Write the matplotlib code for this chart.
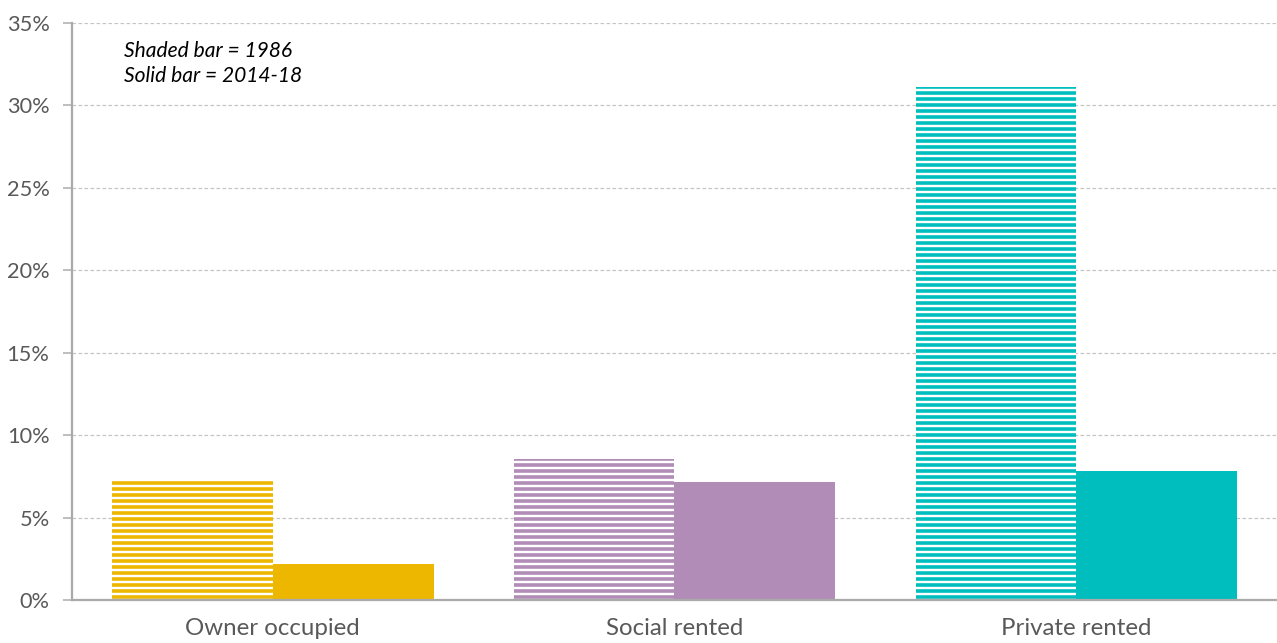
import numpy as np
import matplotlib
matplotlib.use("Agg")
import matplotlib.pyplot as plt

# tenure categories and share of households (%) in each period
categories = ["Owner occupied", "Social rented", "Private rented"]
share_1986 = [7.35, 8.55, 31.1]
share_2014_18 = [2.2, 7.15, 7.8]
colours = ["#EDB700", "#B08CB6", "#00BEBE"]
yticks = [0, 5, 10, 15, 20, 25, 30, 35]

dpi = 108
plt.rcParams["font.family"] = ["Lato", "DejaVu Sans"]
plt.rcParams["hatch.linewidth"] = 2.4

fig = plt.figure(figsize=(1277 / dpi, 643 / dpi), dpi=dpi)
ax = fig.add_axes([72 / 1277, 43 / 643, 1205 / 1277, 577 / 643])

x = np.arange(len(categories))
width = 0.4

# 1986: horizontal stripes, 2014-18: solid fill
for i in range(len(categories)):
    plt.rcParams["hatch.color"] = colours[i]
    ax.bar(x[i] - width / 2, share_1986[i], width, facecolor="white",
           edgecolor=colours[i], hatch="---", linewidth=0, zorder=2)
    ax.bar(x[i] + width / 2, share_2014_18[i], width, color=colours[i],
           linewidth=0, zorder=2)

ax.set_xlim(-0.5, 2.5)
ax.set_ylim(0, 35)
ax.set_yticks(yticks)
ax.set_yticklabels([f"{t}%" for t in yticks])
ax.set_xticks(x)
ax.set_xticklabels(categories)

ax.grid(axis="y", color="#C4C4C4", linestyle=(0, (3, 2)), linewidth=0.8, zorder=0)
for s in ["top", "right"]:
    ax.spines[s].set_visible(False)
for s in ["left", "bottom"]:
    ax.spines[s].set_color("#AAAAAA")
    ax.spines[s].set_linewidth(1.5)
    ax.spines[s].set_zorder(3)

ax.tick_params(axis="y", length=6, width=1, color="#AAAAAA", pad=9,
               labelsize=14.5, labelcolor="#595959")
ax.tick_params(axis="x", length=0, pad=12, labelsize=16, labelcolor="#595959")

ax.text(0.043, 0.969, "Shaded bar = 1986\nSolid bar = 2014-18", transform=ax.transAxes,
        fontsize=14, fontstyle="italic", color="black", va="top", ha="left",
        linespacing=1.3)

fig.savefig("out.png", dpi=dpi)
